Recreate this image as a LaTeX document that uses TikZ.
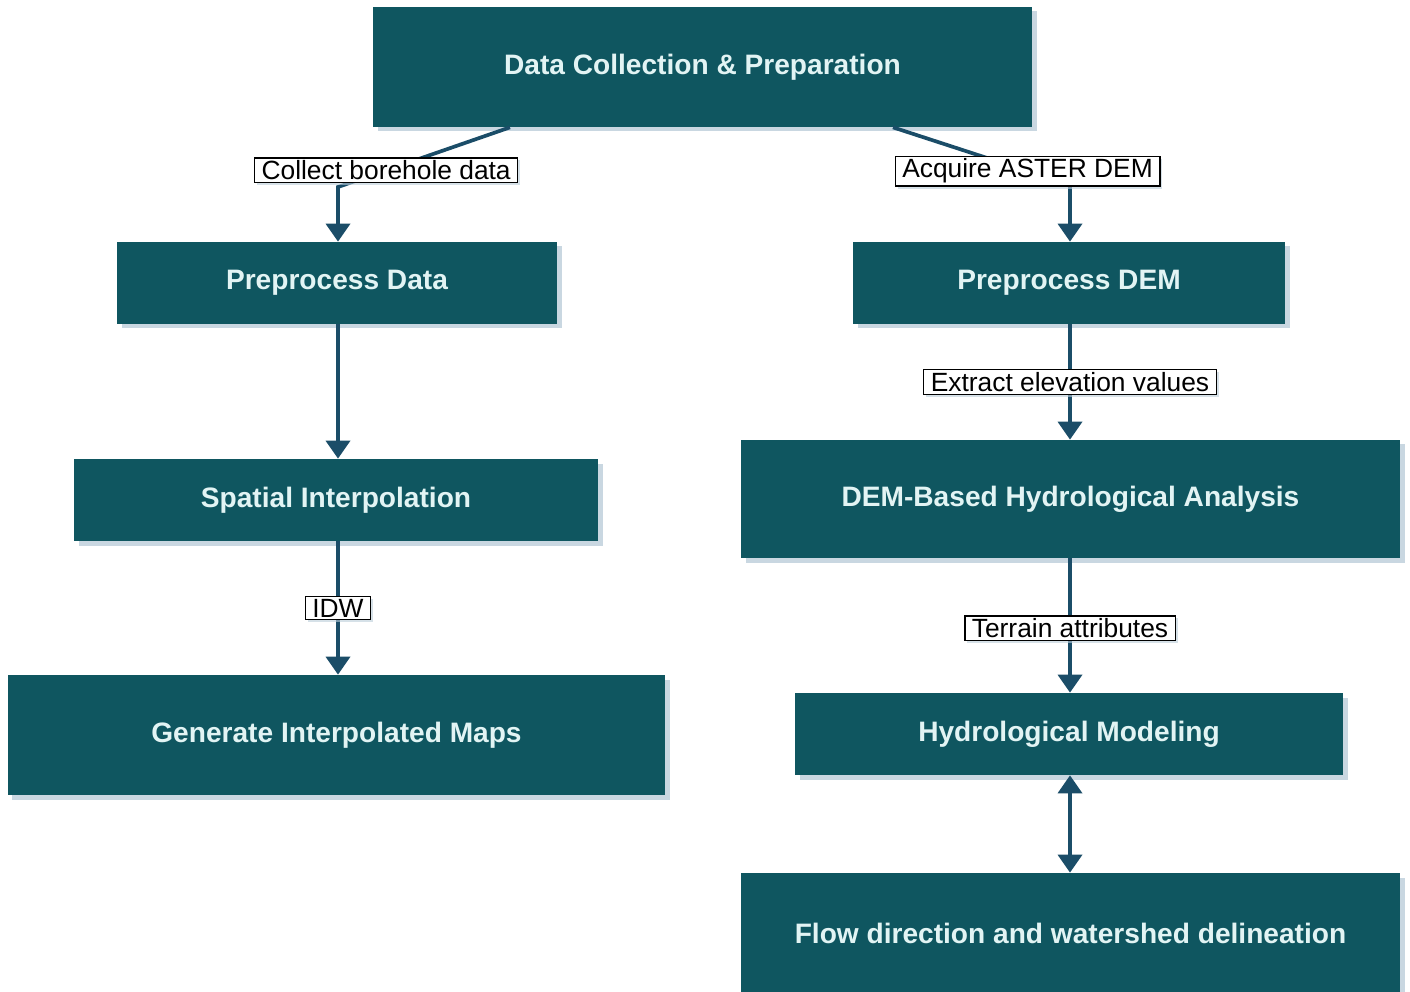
\documentclass[tikz,border=0pt]{standalone}
\usepackage{fontspec}
\setmainfont{Liberation Sans}
\usepackage{xcolor}
\usetikzlibrary{arrows.meta,shadows}
\definecolor{boxteal}{HTML}{0F5660}
\definecolor{boxtext}{HTML}{E2F4F4}
\definecolor{linkblue}{HTML}{1B4D68}
\definecolor{shadowgrey}{HTML}{BCCDDA}

\begin{document}
\begin{tikzpicture}[
	box/.style={fill=boxteal, text=boxtext, font=\fontsize{16}{19}\selectfont\bfseries,
		drop shadow={shadow xshift=0.09cm, shadow yshift=-0.09cm, fill=shadowgrey, opacity=0.8},
		inner sep=0pt},
	lbl/.style={fill=white, draw=black, line width=0.8pt, text=black,
		font=\fontsize{15}{17}\selectfont, inner xsep=4pt, inner ysep=1.5pt,
		drop shadow={shadow xshift=0.05cm, shadow yshift=-0.05cm, fill=shadowgrey, opacity=0.6}},
	link/.style={draw=linkblue, line width=2.1pt, -{Triangle[width=0.48cm,length=0.36cm]}},
	dlink/.style={draw=linkblue, line width=2.1pt, {Triangle[width=0.48cm,length=0.36cm]}-{Triangle[width=0.48cm,length=0.36cm]}},
	]
	\useasboundingbox (0,0) rectangle (28.2,-19.84);
	\fill[white] (0,0) rectangle (28.2,-19.84);

	\node[box, minimum width=13.18cm, minimum height=2.40cm] (collect) at (14.05,-1.34) {Data Collection \& Preparation};
	\node[box, minimum width=8.80cm, minimum height=1.64cm] (prepdata) at (6.74,-5.66) {Preprocess Data};
	\node[box, minimum width=8.64cm, minimum height=1.64cm] (prepdem) at (21.38,-5.66) {Preprocess DEM};
	\node[box, minimum width=10.48cm, minimum height=1.64cm] (spatial) at (6.72,-10.00) {Spatial Interpolation};
	\node[box, minimum width=13.18cm, minimum height=2.36cm] (hydroana) at (21.41,-9.98) {DEM-Based Hydrological Analysis};
	\node[box, minimum width=13.14cm, minimum height=2.40cm] (maps) at (6.73,-14.70) {Generate Interpolated Maps};
	\node[box, minimum width=10.96cm, minimum height=1.64cm] (hydromod) at (21.38,-14.68) {Hydrological Modeling};
	\node[box, minimum width=13.18cm, minimum height=2.40cm] (flowdir) at (21.41,-18.66) {Flow direction and watershed delineation};

	\coordinate (kneeL) at (6.76,-3.74);
	\coordinate (kneeR) at (21.40,-3.70);

	\draw[link] (collect.south -| 10.2,0) -- node[lbl, pos=0.72] {Collect borehole data} (kneeL) -- (prepdata.north -| kneeL);
	\draw[link] (collect.south -| 17.86,0) -- node[lbl, pos=0.76] {Acquire ASTER DEM} (kneeR) -- (prepdem.north -| kneeR);
	\draw[link] (prepdata.south -| kneeL) -- (spatial.north -| kneeL);
	\draw[link] (spatial.south -| kneeL) -- node[lbl, pos=0.5] {IDW} (maps.north -| kneeL);
	\draw[link] (prepdem.south -| kneeR) -- node[lbl, pos=0.5] {Extract elevation values} (hydroana.north -| kneeR);
	\draw[link] (hydroana.south -| kneeR) -- node[lbl, pos=0.52] {Terrain attributes} (hydromod.north -| kneeR);
	\draw[dlink] (hydromod.south -| kneeR) -- (flowdir.north -| kneeR);
\end{tikzpicture}
\end{document}
